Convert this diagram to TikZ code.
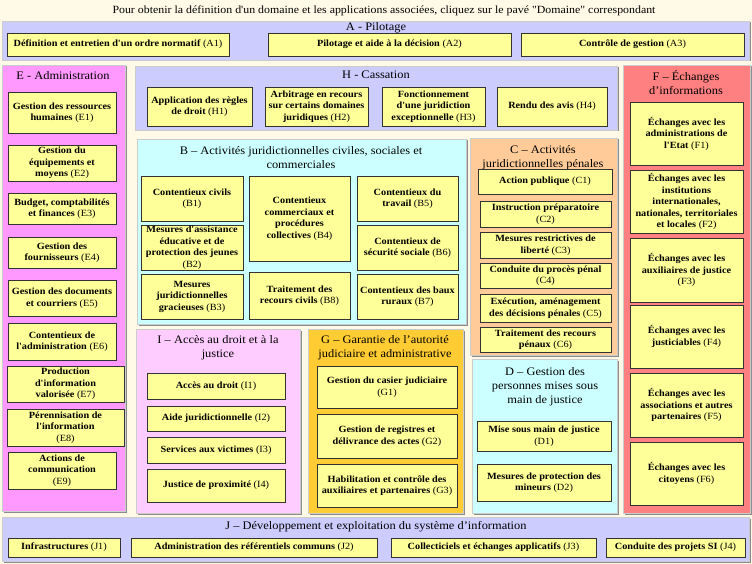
\documentclass[tikz,border=0pt]{standalone}
\usepackage{fontspec}
\setmainfont{Liberation Serif}[FakeStretch=1.08, Ligatures=TeXOff]
\usetikzlibrary{shadows}

\definecolor{fond}{HTML}{FFFAE8}
\definecolor{lavande}{HTML}{CCCCFF}
\definecolor{mauve}{HTML}{FF99FF}
\definecolor{cyan}{HTML}{CCFFFF}
\definecolor{peche}{HTML}{FFCC99}
\definecolor{saumon}{HTML}{FF8080}
\definecolor{rose}{HTML}{FFCCFF}
\definecolor{or}{HTML}{FFCC33}
\definecolor{jaune}{HTML}{FFFF99}

\newcommand{\cod}[1]{{\mdseries(#1)}}

\begin{document}
\begin{tikzpicture}[x=1pt, y=-1pt,
	cadre/.style n args = {4}{minimum width={#3-#1}, minimum height={#4-#2}, at={(#1/2+#3/2, #2/2+#4/2)}},
	pave/.style = {draw=black!80, line width=0.6pt, fill=jaune, inner sep=0pt, align=center, font=\fontsize{9.5}{11.5}\selectfont\bfseries},
	domaine/.style = {draw=black!20, fill=#1, inner sep=0pt, drop shadow={shadow xshift=1.5pt, shadow yshift=-1.5pt, fill=black!45, opacity=1}},
	titre/.style = {align=center, font=\fontsize{11.5}{14}\selectfont}]

	\useasboundingbox[fill=fond] (0,0) rectangle (752,564);

	\node[font=\fontsize{11}{12}\selectfont] (entete) at (384,11) {Pour obtenir la définition d'un domaine et les applications associées, cliquez sur le pavé "Domaine" correspondant};

	% A - Pilotage
	\node[domaine=lavande, cadre={2}{21}{749}{60}] (A) {};
	\node[titre] (tA) at (376,28) {A - Pilotage};
	\node[pave, cadre={7}{33}{229}{56}] (A1) {Définition et entretien d'un ordre normatif \cod{A1}};
	\node[pave, cadre={268}{33}{511}{56}] (A2) {Pilotage et aide à la décision \cod{A2}};
	\node[pave, cadre={521}{33}{744}{56}] (A3) {Contrôle de gestion \cod{A3}};

	% E - Administration
	\node[domaine=mauve, cadre={2}{65}{125}{511}] (E) {};
	\node[titre] (tE) at (63,76) {E - Administration};
	\node[pave, cadre={8}{92}{116}{133}] (E1) {Gestion des ressources\\humaines \cod{E1}};
	\node[pave, cadre={8}{145}{116}{181}] (E2) {Gestion du\\équipements et\\moyens \cod{E2}};
	\node[pave, cadre={8}{193}{116}{224}] (E3) {Budget, comptabilités\\et finances \cod{E3}};
	\node[pave, cadre={8}{237}{116}{268}] (E4) {Gestion des\\fournisseurs \cod{E4}};
	\node[pave, cadre={8}{280}{116}{316}] (E5) {Gestion des documents\\et courriers \cod{E5}};
	\node[pave, cadre={8}{323}{116}{360}] (E6) {Contentieux de\\l'administration \cod{E6}};
	\node[pave, cadre={7}{366}{124}{402}] (E7) {Production\\d'information\\valorisée \cod{E7}};
	\node[pave, cadre={7}{409}{124}{446}] (E8) {Pérennisation de\\l'information\\\cod{E8}};
	\node[pave, cadre={8}{452}{116}{489}] (E9) {Actions de\\communication\\\cod{E9}};

	% H - Cassation
	\node[domaine=lavande, cadre={135}{66}{617}{130}] (H) {};
	\node[titre] (tH) at (376,75) {H - Cassation};
	\node[pave, cadre={147}{87}{252}{126}] (H1) {Application des règles\\de droit \cod{H1}};
	\node[pave, cadre={265}{87}{368}{126}] (H2) {Arbitrage en recours\\sur certains domaines\\juridiques \cod{H2}};
	\node[pave, cadre={382}{87}{485}{126}] (H3) {Fonctionnement\\d'une juridiction\\exceptionnelle \cod{H3}};
	\node[pave, cadre={497}{87}{607}{126}] (H4) {Rendu des avis \cod{H4}};

	% B - civiles, sociales et commerciales
	\node[domaine=cyan, cadre={137}{139}{466}{324}] (B) {};
	\node[titre] (tB) at (301,158) {B – Activités juridictionnelles civiles, sociales et\\commerciales};
	\node[pave, cadre={141}{176}{243}{221}] (B1) {Contentieux civils\\\cod{B1}};
	\node[pave, cadre={141}{225}{243}{270}] (B2) {Mesures d'assistance\\éducative et de\\protection des jeunes\\\cod{B2}};
	\node[pave, cadre={141}{274}{243}{319}] (B3) {Mesures\\juridictionnelles\\gracieuses \cod{B3}};
	\node[pave, cadre={249}{176}{350}{261}] (B4) {Contentieux\\commerciaux et\\procédures\\collectives \cod{B4}};
	\node[pave, cadre={249}{272}{350}{319}] (B8) {Traitement des\\recours civils \cod{B8}};
	\node[pave, cadre={357}{176}{458}{221}] (B5) {Contentieux du\\travail \cod{B5}};
	\node[pave, cadre={357}{225}{458}{270}] (B6) {Contentieux de\\sécurité sociale \cod{B6}};
	\node[pave, cadre={357}{274}{458}{319}] (B7) {Contentieux des baux\\ruraux \cod{B7}};

	% C - penales
	\node[domaine=peche, cadre={470}{138}{617}{355}] (C) {};
	\node[titre] (tC) at (543,158) {C – Activités\\juridictionnelles pénales};
	\node[pave, cadre={478}{169}{612}{194}] (C1) {Action publique \cod{C1}};
	\node[pave, cadre={480}{201}{611}{227}] (C2) {Instruction préparatoire\\\cod{C2}};
	\node[pave, cadre={480}{232}{611}{258}] (C3) {Mesures restrictives de\\liberté \cod{C3}};
	\node[pave, cadre={480}{263}{611}{288}] (C4) {Conduite du procès pénal\\\cod{C4}};
	\node[pave, cadre={480}{294}{611}{322}] (C5) {Exécution, aménagement\\des décisions pénales \cod{C5}};
	\node[pave, cadre={480}{327}{611}{352}] (C6) {Traitement des recours\\pénaux \cod{C6}};

	% F - Echanges
	\node[domaine=saumon, cadre={623}{65}{750}{513}] (F) {};
	\node[titre] (tF) at (686,83) {F – Échanges\\d’informations};
	\node[pave, cadre={630}{102}{743}{165}] (F1) {Échanges avec les\\administrations de\\l'Etat \cod{F1}};
	\node[pave, cadre={630}{170}{743}{233}] (F2) {Échanges avec les\\institutions\\internationales,\\nationales, territoriales\\et locales \cod{F2}};
	\node[pave, cadre={630}{238}{743}{302}] (F3) {Échanges avec les\\auxiliaires de justice\\\cod{F3}};
	\node[pave, cadre={630}{305}{743}{368}] (F4) {Échanges avec les\\justiciables \cod{F4}};
	\node[pave, cadre={630}{373}{743}{437}] (F5) {Échanges avec les\\associations et autres\\partenaires \cod{F5}};
	\node[pave, cadre={630}{442}{743}{505}] (F6) {Échanges avec les\\citoyens \cod{F6}};

	% I - Acces au droit
	\node[domaine=rose, cadre={136}{329}{300}{513}] (I) {};
	\node[titre] (tI) at (218,348) {I – Accès au droit et à la\\justice};
	\node[pave, cadre={147}{373}{285}{399}] (I1) {Accès au droit \cod{I1}};
	\node[pave, cadre={147}{406}{285}{431}] (I2) {Aide juridictionnelle \cod{I2}};
	\node[pave, cadre={147}{437}{285}{463}] (I3) {Services aux victimes \cod{I3}};
	\node[pave, cadre={147}{469}{285}{502}] (I4) {Justice de proximité \cod{I4}};

	% G - Garantie
	\node[domaine=or, cadre={308}{329}{463}{513}] (G) {};
	\node[titre] (tG) at (385,348) {G – Garantie de l’autorité\\judiciaire et administrative};
	\node[pave, cadre={317}{366}{457}{408}] (G1) {Gestion du casier judiciaire\\\cod{G1}};
	\node[pave, cadre={317}{414}{457}{458}] (G2) {Gestion de registres et\\délivrance des actes \cod{G2}};
	\node[pave, cadre={317}{464}{457}{507}] (G3) {Habilitation et contrôle des\\auxiliaires et partenaires \cod{G3}};

	% D - personnes sous main de justice
	\node[domaine=cyan, cadre={472}{359}{617}{513}] (D) {};
	\node[titre] (tD) at (545,387) {D – Gestion des\\personnes mises sous\\main de justice};
	\node[pave, cadre={477}{421}{611}{451}] (D1) {Mise sous main de justice\\\cod{D1}};
	\node[pave, cadre={477}{464}{611}{501}] (D2) {Mesures de protection des\\mineurs \cod{D2}};

	% J - SI
	\node[domaine=lavande, cadre={2}{517}{749}{561}] (J) {};
	\node[titre] (tJ) at (376,527) {J – Développement et exploitation du système d’information};
	\node[pave, cadre={8}{538}{120}{557}] (J1) {Infrastructures \cod{J1}};
	\node[pave, cadre={131}{538}{377}{557}] (J2) {Administration des référentiels communs \cod{J2}};
	\node[pave, cadre={391}{538}{596}{557}] (J3) {Collecticiels et échanges applicatifs \cod{J3}};
	\node[pave, cadre={606}{538}{745}{557}] (J4) {Conduite des projets SI \cod{J4}};

\end{tikzpicture}
\end{document}
